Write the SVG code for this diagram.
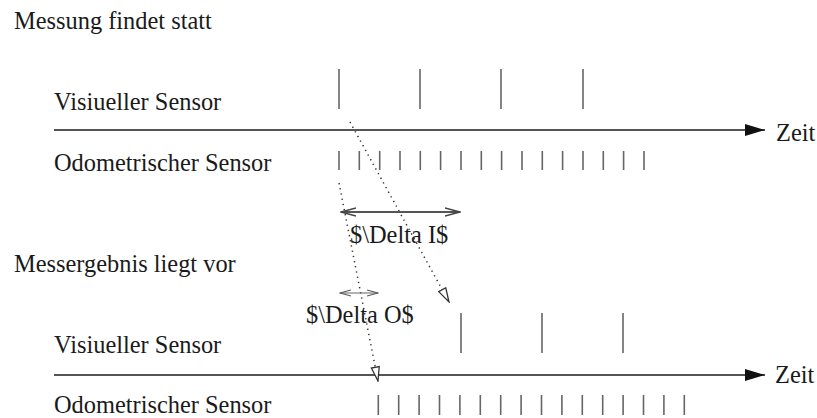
<svg xmlns="http://www.w3.org/2000/svg" width="817" height="418" viewBox="0 0 817 418">
<defs>
<style>
text{font-family:"Liberation Serif","Times New Roman",serif;font-size:24.4px;fill:#1a1a1a}
.axis{stroke:#555;stroke-width:2;fill:none}
.tick{stroke:#666;stroke-width:1.6}
.dot{stroke:#333;stroke-width:1.5;stroke-dasharray:1.3 4;fill:none}
.dim{stroke:#555;stroke-width:1.8;fill:none}
.dimthin{stroke:#666;stroke-width:1.2;fill:none}
</style>
<marker id="ah" viewBox="0 0 20 12" refX="20" refY="6" markerWidth="20" markerHeight="12" markerUnits="userSpaceOnUse" orient="auto"><path d="M0,0 L20,6 L0,12 Z" fill="#111"/></marker>
<marker id="open" viewBox="0 0 16 10" refX="15" refY="5" markerWidth="16" markerHeight="10" markerUnits="userSpaceOnUse" orient="auto"><path d="M1,1 L15,5 L1,9 Z" fill="#fff" stroke="#333" stroke-width="1.3"/></marker>
<marker id="v" viewBox="0 0 16 10" refX="15" refY="5" markerWidth="16" markerHeight="10" markerUnits="userSpaceOnUse" orient="auto-start-reverse"><path d="M0,1 L15,5 L0,9" fill="none" stroke="#444" stroke-width="1.5"/></marker>
<marker id="vs" viewBox="0 0 12 8" refX="11" refY="4" markerWidth="12" markerHeight="8" markerUnits="userSpaceOnUse" orient="auto-start-reverse"><path d="M0,1 L11,4 L0,7" fill="none" stroke="#555" stroke-width="1.2"/></marker>
</defs>
<g id="labels">
<text x="14" y="29">Messung findet statt</text>
<text x="54" y="110">Visiueller Sensor</text>
<text x="54" y="171">Odometrischer Sensor</text>
<text x="776" y="141">Zeit</text>
<text x="14" y="272">Messergebnis liegt vor</text>
<text x="54" y="353">Visiueller Sensor</text>
<text x="54" y="413">Odometrischer Sensor</text>
<text x="775" y="383">Zeit</text>
<text x="350" y="243">$\Delta I$</text>
<text x="306" y="323">$\Delta O$</text>
</g>
<g id="top-axis">
<line class="axis" x1="54" y1="130" x2="765" y2="130" marker-end="url(#ah)"/>
</g>
<g id="top-visual" class="tick">
<line x1="339" y1="69" x2="339" y2="109"/><line x1="420" y1="69" x2="420" y2="109"/><line x1="501" y1="69" x2="501" y2="109"/><line x1="583" y1="69" x2="583" y2="109"/>
</g>
<g id="top-odo" class="tick">
<line x1="339" y1="151" x2="339" y2="170"/><line x1="359.3" y1="151" x2="359.3" y2="170"/><line x1="379.7" y1="151" x2="379.7" y2="170"/><line x1="400" y1="151" x2="400" y2="170"/><line x1="420.3" y1="151" x2="420.3" y2="170"/><line x1="440.6" y1="151" x2="440.6" y2="170"/><line x1="461" y1="151" x2="461" y2="170"/><line x1="481.3" y1="151" x2="481.3" y2="170"/><line x1="501.6" y1="151" x2="501.6" y2="170"/><line x1="522" y1="151" x2="522" y2="170"/><line x1="542.3" y1="151" x2="542.3" y2="170"/><line x1="562.6" y1="151" x2="562.6" y2="170"/><line x1="583" y1="151" x2="583" y2="170"/><line x1="603.3" y1="151" x2="603.3" y2="170"/><line x1="623.6" y1="151" x2="623.6" y2="170"/><line x1="644" y1="151" x2="644" y2="170"/>
</g>
<g id="bottom-axis">
<line class="axis" x1="54" y1="375" x2="765" y2="375" marker-end="url(#ah)"/>
</g>
<g id="bottom-visual" class="tick">
<line x1="461" y1="313" x2="461" y2="353"/><line x1="542" y1="313" x2="542" y2="353"/><line x1="623" y1="313" x2="623" y2="353"/>
</g>
<g id="bottom-odo" class="tick">
<line x1="378.3" y1="395" x2="378.3" y2="415"/><line x1="398.7" y1="395" x2="398.7" y2="415"/><line x1="419.1" y1="395" x2="419.1" y2="415"/><line x1="439.5" y1="395" x2="439.5" y2="415"/><line x1="459.9" y1="395" x2="459.9" y2="415"/><line x1="480.3" y1="395" x2="480.3" y2="415"/><line x1="500.7" y1="395" x2="500.7" y2="415"/><line x1="521.1" y1="395" x2="521.1" y2="415"/><line x1="541.5" y1="395" x2="541.5" y2="415"/><line x1="561.9" y1="395" x2="561.9" y2="415"/><line x1="582.3" y1="395" x2="582.3" y2="415"/><line x1="602.7" y1="395" x2="602.7" y2="415"/><line x1="623.1" y1="395" x2="623.1" y2="415"/><line x1="643.5" y1="395" x2="643.5" y2="415"/><line x1="663.9" y1="395" x2="663.9" y2="415"/><line x1="684.3" y1="395" x2="684.3" y2="415"/>
</g>
<g id="connectors">
<line class="dot" x1="350" y1="122" x2="449" y2="302" marker-end="url(#open)"/>
<line class="dot" x1="339" y1="183" x2="378" y2="381" marker-end="url(#open)"/>
<line class="dim" x1="341" y1="212" x2="460" y2="212" marker-start="url(#v)" marker-end="url(#v)"/>
<line class="dimthin" x1="340" y1="293" x2="378" y2="293" marker-start="url(#vs)" marker-end="url(#vs)"/>
</g>
</svg>
